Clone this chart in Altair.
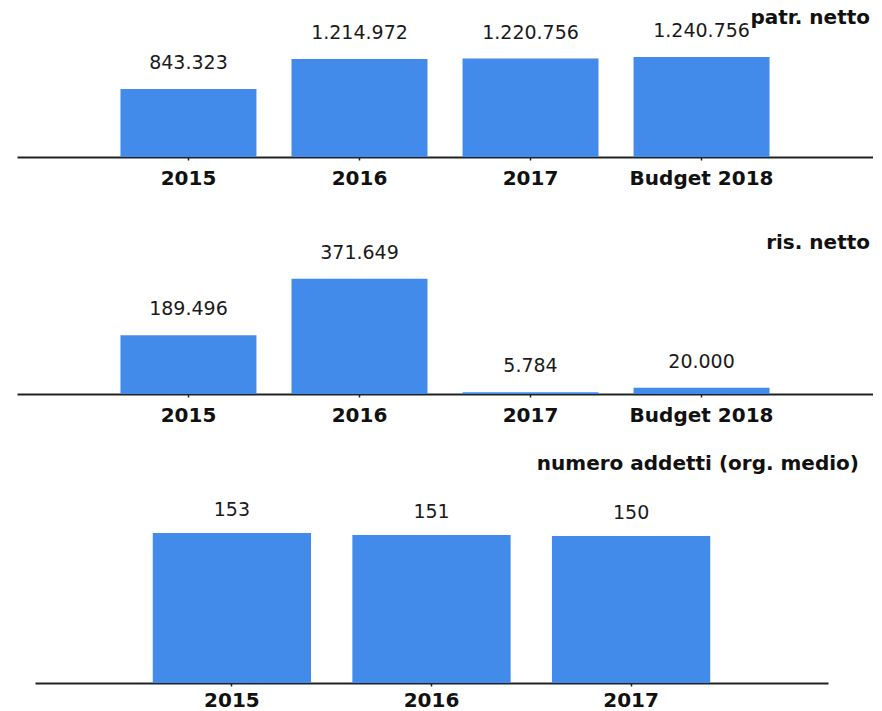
import altair as alt
import pandas as pd

cats4 = ["2015", "2016", "2017", "Budget 2018"]
patr_netto = [843323, 1214972, 1220756, 1240756]
ris_netto = [189496, 371649, 5784, 20000]
cats3 = ["2015", "2016", "2017"]
addetti = [153, 151, 150]

FONT = "DejaVu Sans"
BAR = "#428BEA"


def it_fmt(v):
    return f"{v:,}".replace(",", ".")


def panel(cats, vals, title, dmax, height, rng, dy, title_dx, title_offset, po, pi, lpad):
    df = pd.DataFrame({"cat": cats, "val": vals, "label": [it_fmt(v) for v in vals]})
    x = alt.X(
        "cat:N",
        sort=cats,
        scale=alt.Scale(paddingInner=pi, paddingOuter=po, range=rng),
        axis=alt.Axis(
            title=None,
            labelAngle=0,
            labelFont=FONT,
            labelFontWeight="bold",
            labelFontSize=20,
            labelColor="#111111",
            labelPadding=lpad,
            domainColor="#222222",
            domainWidth=2,
            tickColor="#222222",
            tickSize=3,
            tickWidth=1.5,
            grid=False,
        ),
    )
    y = alt.Y("val:Q", scale=alt.Scale(domain=[0, dmax], nice=False, zero=True), axis=None)
    base = alt.Chart(df)
    bars = base.mark_bar(color=BAR).encode(x=x, y=y)
    text = base.mark_text(baseline="middle", dy=dy, font=FONT, fontSize=19, color="#1a1a1a").encode(
        x=x, y=y, text="label:N"
    )
    return (bars + text).properties(
        width=856,
        height=height,
        title=alt.TitleParams(
            text=title,
            anchor="end",
            font=FONT,
            fontSize=20,
            fontWeight="bold",
            color="#111111",
            offset=title_offset,
            dx=title_dx,
        ),
    )


p1 = panel(cats4, patr_netto, "patr. netto", 1700000, 137, [0, 856], -26, -3, -8, 0.605, 0.205, 8)
p2 = panel(cats4, ris_netto, "ris. netto", 496800, 154, [0, 856], -26, -3, -13, 0.605, 0.205, 8)
p3 = panel(cats3, addetti, "numero addetti (org. medio)", 210.2, 206, [18, 811], -23, -14, 3, 0.59, 0.207, 4)

chart = (
    alt.vconcat(alt.vconcat(p1, p2, spacing=45), p3, spacing=29)
    .properties(padding={"left": 9, "top": 0, "right": 0, "bottom": 0})
    .configure_view(stroke=None)
)

chart.save("out.html", embed_options={"renderer": "svg", "actions": False})
